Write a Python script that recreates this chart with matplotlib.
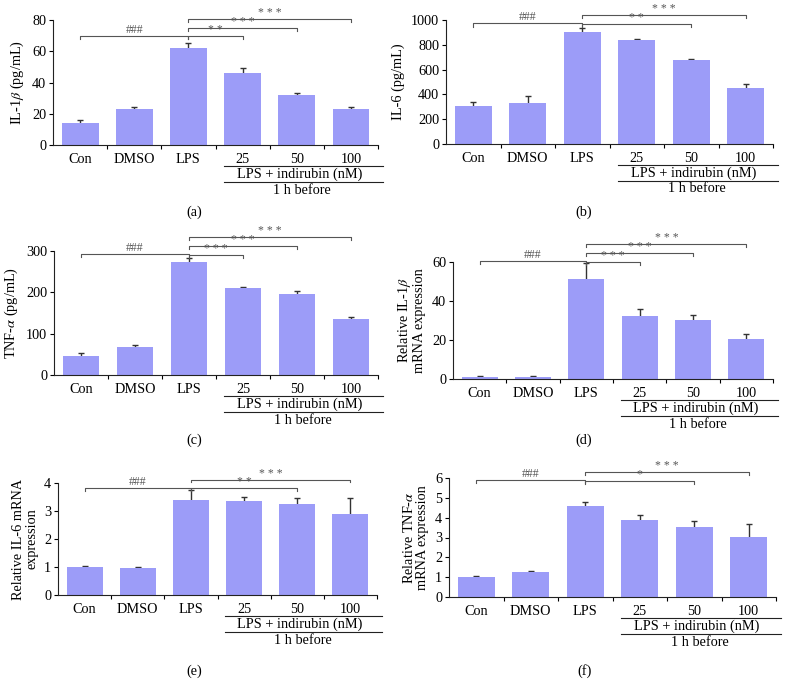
import matplotlib
matplotlib.use("Agg")
import matplotlib.pyplot as plt
import numpy as np
from matplotlib.transforms import blended_transform_factory, ScaledTranslation

plt.rcParams['font.family'] = ['Liberation Serif', 'DejaVu Serif']
plt.rcParams['mathtext.fontset'] = 'stix'

categories = ['Con', 'DMSO', 'LPS', '25', '50', '100']

il1b_protein = [14, 23, 62, 46, 32, 23]
il1b_protein_err = [2.2, 1.5, 3.5, 3.2, 1.5, 1.5]
il6_protein = [310, 330, 905, 840, 675, 450]
il6_protein_err = [25, 60, 30, 5, 10, 30]
tnf_protein = [47, 68, 273, 210, 195, 136]
tnf_protein_err = [6, 4, 10, 4, 8, 5]
il1b_mrna = [1.0, 1.2, 51.5, 32.5, 30.5, 20.5]
il1b_mrna_err = [0.6, 0.4, 8.0, 3.5, 2.5, 2.5]
il6_mrna = [1.0, 0.98, 3.4, 3.35, 3.25, 2.9]
il6_mrna_err = [0.03, 0.03, 0.35, 0.15, 0.2, 0.58]
tnf_mrna = [1.0, 1.25, 4.6, 3.9, 3.55, 3.05]
tnf_mrna_err = [0.08, 0.08, 0.2, 0.25, 0.28, 0.62]

# (start, end, label, height)
brackets_a = [(0, 2, '###', 70), (2, 3, '* *', 70), (2, 4, '* * *', 75), (2, 5, '* * *', 80.5)]
brackets_b = [(0, 2, '###', 972), (2, 4, '* *', 968), (2, 5, '* * *', 1043)]
brackets_c = [(0, 2, '###', 293), (2, 3, '* * *', 291), (2, 4, '* * *', 312), (2, 5, '* * *', 333)]
brackets_d = [(0, 2, '###', 60.6), (2, 3, '* * *', 60.2), (2, 4, '* * *', 64.8), (2, 5, '* * *', 69.2)]
brackets_e = [(0, 2, '###', 3.81), (2, 4, '* *', 3.81), (2, 5, '* * *', 4.12)]
brackets_f = [(0, 2, '###', 5.91), (2, 4, '*', 5.87), (2, 5, '* * *', 6.32)]

W, H = 787, 693
fig = plt.figure(figsize=(W / 100, H / 100), dpi=100)

panels = [
    # (left, right, bottom, top) in px, values, errs, ymax, ystep, ylabel, brackets, tag, tag pos
    ((53, 378, 145, 20), il1b_protein, il1b_protein_err, 80, 20,
     r'IL-1$\beta$ (pg/mL)', brackets_a, '(a)', (194, 212)),
    ((446, 773, 144, 20), il6_protein, il6_protein_err, 1000, 200,
     'IL-6 (pg/mL)', brackets_b, '(b)', (584, 212)),
    ((54, 378, 375, 251), tnf_protein, tnf_protein_err, 300, 100,
     r'TNF-$\alpha$ (pg/mL)', brackets_c, '(c)', (194, 440)),
    ((453, 773, 379, 262), il1b_mrna, il1b_mrna_err, 60, 20,
     'Relative IL-1$\\beta$\nmRNA expression', brackets_d, '(d)', (584, 440)),
    ((58, 377, 595, 483), il6_mrna, il6_mrna_err, 4, 1,
     'Relative IL-6 mRNA\nexpression', brackets_e, '(e)', (194, 671)),
    ((449, 776, 597, 478), tnf_mrna, tnf_mrna_err, 6, 1,
     'Relative TNF-$\\alpha$\nmRNA expression', brackets_f, '(f)', (585, 671)),
]

bar_color = '#9C9CF8'
x = np.arange(len(categories))
fs = 10.3

for (l, r, b, t), vals, errs, ymax, ystep, ylabel, brackets, tag, tagpos in panels:
    ax = fig.add_axes([l / W, 1 - b / H, (r - l) / W, (b - t) / H])
    ax.bar(x, vals, width=0.68, color=bar_color, edgecolor='none', zorder=2)
    # error bars sit behind the bars so only the upper half shows
    ax.errorbar(x, vals, yerr=errs, fmt='none',
                ecolor='#333333', elinewidth=1, capsize=2.2, capthick=1, zorder=1)
    ax.set_xlim(-0.5, len(categories) - 0.5)
    ax.set_ylim(0, ymax)
    ax.set_yticks(np.arange(0, ymax + ystep / 2, ystep))
    ax.set_xticks(x)
    ax.set_xticklabels(categories, fontsize=fs)
    ax.set_xticks(np.arange(0.5, len(categories), 1), minor=True)
    ax.tick_params(axis='x', which='major', length=0, pad=6)
    ax.tick_params(axis='x', which='minor', length=3, direction='out', width=0.8)
    ax.tick_params(axis='y', length=3, direction='out', width=0.8, labelsize=fs, pad=2)
    for s in ['top', 'right']:
        ax.spines[s].set_visible(False)
    for s in ['left', 'bottom']:
        ax.spines[s].set_linewidth(0.8)
        ax.spines[s].set_color('#222222')
        ax.spines[s].set_zorder(3)
    ax.set_ylabel(ylabel, fontsize=fs, labelpad=4, linespacing=1.0)

    # significance brackets
    tick = ymax * 0.025
    for s, e, lab, h in brackets:
        ax.plot([s, s, e, e], [h - tick, h, h, h - tick], color='#555555', lw=0.8,
                clip_on=False, zorder=4)
        ax.text((s + e) / 2, h, lab, ha='center', va='bottom', fontsize=8.5,
                color='#555555', clip_on=False)

    # group labels beneath treatment bars
    def below(dy):
        return blended_transform_factory(ax.transData, ax.transAxes) + \
            ScaledTranslation(0, -dy / 100, fig.dpi_scale_trans)
    ax.plot([2.65, 5.6], [0, 0], transform=below(21), color='#222222', lw=0.8, clip_on=False)
    ax.plot([2.65, 5.6], [0, 0], transform=below(37), color='#222222', lw=0.8, clip_on=False)
    ax.text(4.05, 0, 'LPS + indirubin (nM)', transform=below(32.5), ha='center',
            va='baseline', fontsize=fs)
    ax.text(4.1, 0, '1 h before', transform=below(48.5), ha='center', va='baseline',
            fontsize=fs)

    fig.text(tagpos[0] / W, 1 - tagpos[1] / H, tag, ha='center', va='center', fontsize=fs)

fig.savefig('out.png', dpi=100)
